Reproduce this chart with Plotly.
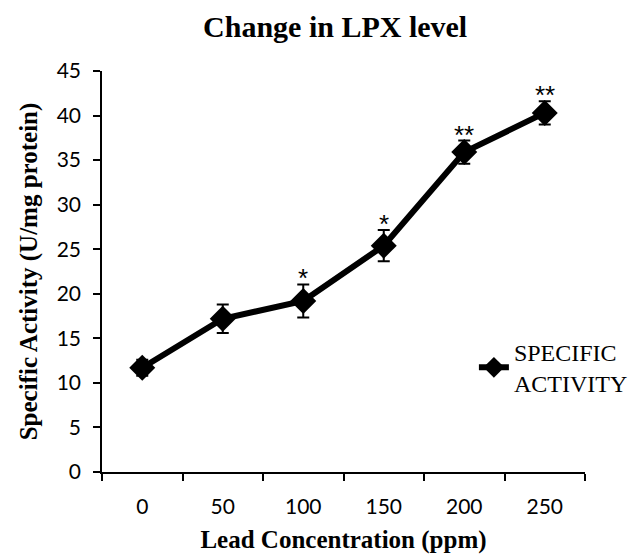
import plotly.graph_objects as go

categories = ["0", "50", "100", "150", "200", "250"]
activity = [11.7, 17.2, 19.2, 25.4, 35.9, 40.3]
errors = [0.9, 1.6, 1.85, 1.75, 1.3, 1.3]
significance = ["", "", "*", "*", "**", "**"]
y_ticks = [0, 5, 10, 15, 20, 25, 30, 35, 40, 45]

serif = "Liberation Serif, Times New Roman, serif"
sans = "Lato, Carlito, Calibri, sans-serif"

fig = go.Figure()
fig.add_trace(go.Scatter(
    x=categories, y=activity,
    mode="lines+markers",
    name="SPECIFIC<br>ACTIVITY",
    line=dict(color="black", width=6),
    marker=dict(symbol="diamond", size=20, color="black"),
    error_y=dict(type="data", array=errors, visible=True,
                 color="black", thickness=2, width=6),
))

for i, (v, e, s) in enumerate(zip(activity, errors, significance)):
    if s:
        fig.add_annotation(x=i, y=v + e, xref="x", yref="y", text=s,
                           showarrow=False, yanchor="middle", yshift=6,
                           font=dict(family="Liberation Sans, Arial, sans-serif",
                                     size=26, color="black"))

fig.update_layout(
    width=642, height=555,
    margin=dict(l=102, r=57, t=71, b=83, autoexpand=False),
    paper_bgcolor="white", plot_bgcolor="white",
    title=dict(text="<b>Change in LPX level</b>", x=0.522, xanchor="center",
               y=1 - 26.5 / 555, yanchor="middle", yref="container",
               font=dict(family=serif, size=30, color="black")),
    showlegend=True,
    legend=dict(x=0.77, y=0.355, xanchor="left", yanchor="top",
                bgcolor="rgba(0,0,0,0)",
                font=dict(family=serif, size=24, color="black"),
                itemwidth=30, tracegroupgap=0),
)

fig.update_xaxes(
    type="category", categoryorder="array", categoryarray=categories,
    range=[-0.5, 5.5], tickson="boundaries", automargin=False,
    showline=True, linecolor="black", linewidth=1.5,
    ticks="outside", ticklen=7, tickcolor="black", tickwidth=1.5,
    showgrid=False, zeroline=False,
    tickfont=dict(family=sans, size=21, color="black"),
    ticklabelstandoff=15,
    title=dict(text="<b>Lead Concentration (ppm)</b>", standoff=14,
               font=dict(family=serif, size=25, color="black")),
)
fig.update_yaxes(
    range=[0, 45], tickvals=y_ticks, automargin=False,
    showline=True, linecolor="black", linewidth=1.5,
    ticks="outside", ticklen=7, tickcolor="black", tickwidth=1.5,
    showgrid=False, zeroline=False,
    tickfont=dict(family=sans, size=21, color="black"),
    ticklabelstandoff=8,
    title=dict(text="<b>Specific Activity (U/mg protein)</b>", standoff=12,
               font=dict(family=serif, size=25, color="black")),
)

fig.write_html("out.html")
